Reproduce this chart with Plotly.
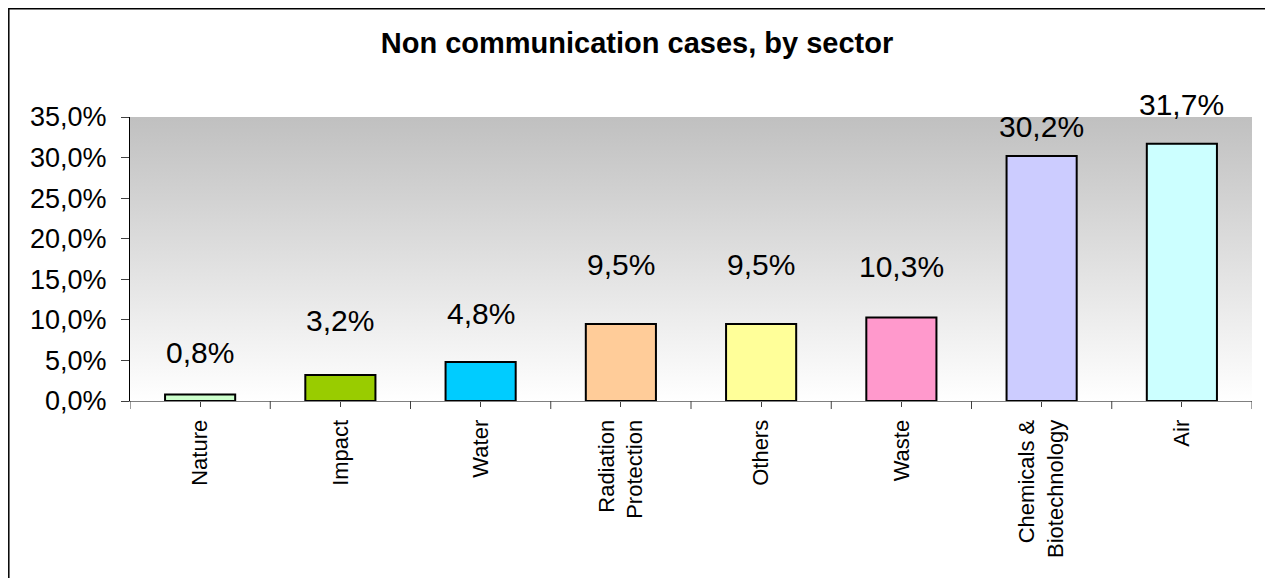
import base64
import plotly.graph_objects as go

# ---- data ----
categories = ["Nature", "Impact", "Water", "Radiation<br>Protection", "Others",
              "Waste", "Chemicals &<br>Biotechnology", "Air"]
shares_pct = [0.8, 3.2, 4.8, 9.5, 9.5, 10.3, 30.2, 31.7]
bar_colors = ["#CCFFCC", "#99CC00", "#00CCFF", "#FFCC99", "#FFFF99",
              "#FF99CC", "#CCCCFF", "#CCFFFF"]
label_shift_px = [42, 55, 49, 59, 59, 51, 29, 39]
y_tick_vals = [0.0, 0.05, 0.10, 0.15, 0.20, 0.25, 0.30, 0.35]
title_text = "Non communication cases, by sector"

FONT = "Arial, Liberation Sans, sans-serif"
W, H = 1273, 578
OFF = 8  # page body margin offset
L, R, T, B = 130 - OFF, W - (1252 - OFF), 117 - OFF, H - (401 - OFF)
PW, PH = W - L - R, H - T - B

values = [v / 100 for v in shares_pct]
labels = [f"{v:.1f}%".replace(".", ",") for v in shares_pct]

fig = go.Figure()
fig.add_trace(go.Bar(
    x=categories, y=values,
    marker=dict(color=bar_colors, line=dict(color="#000000", width=2)),
    width=0.5, showlegend=False, hoverinfo="skip",
))

for c, v, lab, s in zip(categories, values, labels, label_shift_px):
    fig.add_annotation(x=c, y=v, text=lab, showarrow=False, yanchor="middle",
                       yshift=s, font=dict(family=FONT, size=30, color="#000000"))

# gradient plot background
svg = ('<svg xmlns="http://www.w3.org/2000/svg" width="100" height="100" '
       'preserveAspectRatio="none"><defs><linearGradient id="g" x1="0" y1="0" '
       'x2="0" y2="1"><stop offset="0" stop-color="#c0c0c0"/>'
       '<stop offset="1" stop-color="#ffffff"/></linearGradient></defs>'
       '<rect width="100" height="100" fill="url(#g)"/></svg>')
src = "data:image/svg+xml;base64," + base64.b64encode(svg.encode()).decode()
fig.add_layout_image(source=src, xref="paper", yref="paper", x=0, y=1,
                     sizex=1, sizey=1, sizing="stretch", xanchor="left",
                     yanchor="top", layer="below")

# boundary ticks between categories
n = len(categories)
for i in range(n + 1):
    fig.add_shape(type="line", xref="x", yref="paper", x0=i - 0.5, x1=i - 0.5,
                  y0=0, y1=-8 / PH, line=dict(color="#404040", width=1))

# outer frame
fig.add_shape(type="rect", xref="paper", yref="paper",
              x0=(0.8 - L) / PW, x1=(1267 - OFF - L) / PW,
              y0=-0.9, y1=(PH + T - 0.8) / PH,
              line=dict(color="#000000", width=1.5), fillcolor="rgba(0,0,0,0)",
              layer="below")

fig.update_layout(
    width=W, height=H,
    margin=dict(l=L, r=R, t=T, b=B),
    paper_bgcolor="#FFFFFF", plot_bgcolor="rgba(0,0,0,0)",
    separators=",.",
    title=dict(text="<b>" + title_text + "</b>", x=(637 - OFF) / W,
               xanchor="center", y=1 - (43 - OFF) / H, yanchor="middle",
               yref="container",
               font=dict(family=FONT, size=29, color="#000000")),
    bargap=0.5,
)
fig.update_xaxes(type="category", range=[-0.5, n - 0.5], showgrid=False,
                 showline=True, linecolor="#808080", linewidth=1,
                 ticks="outside", ticklen=5, tickcolor="#404040",
                 tickangle=-90, ticklabelstandoff=4,
                 tickfont=dict(family=FONT, size=22, color="#000000"))
fig.update_yaxes(range=[0, 0.35], tickvals=y_tick_vals, tickformat=".1%",
                 showgrid=False, zeroline=False, showline=True,
                 linecolor="#000000", linewidth=1, ticks="outside", ticklen=8,
                 tickcolor="#404040", ticklabelstandoff=9,
                 tickfont=dict(family=FONT, size=27, color="#000000"))

fig.write_html("out.html")
